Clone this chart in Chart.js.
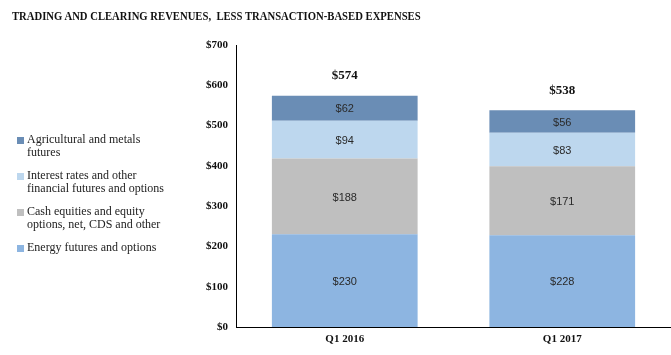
<!DOCTYPE html>
<html>
<head>
<meta charset="utf-8">
<script src="https://cdn.jsdelivr.net/npm/chart.js@4/dist/chart.umd.min.js"></script>
<style>
  html, body { margin: 0; padding: 0; background: #fff; }
  #wrap { position: relative; width: 671px; height: 355px; overflow: hidden; }
  #c { position: absolute; left: 0; top: 0; }
  #title { position: absolute; left: 12px; top: 9px; font: bold 12.5px "Liberation Serif", serif; color: #111; white-space: pre; transform: scaleX(0.853); transform-origin: 0 0; }
  #legend { position: absolute; left: 17px; top: 0; font: 12px "Liberation Serif", serif; color: #222; }
  .li { position: absolute; left: 0; width: 190px; line-height: 13px; }
  .sw { position: absolute; left: 0; top: 4px; width: 7px; height: 7px; }
  .tx { margin-left: 10px; }
</style>
</head>
<body>
<div id="wrap">
  <canvas id="c" width="671" height="355"></canvas>
  <div id="title"></div>
  <div id="legend"></div>
</div>
<script>
const titleText = "TRADING AND CLEARING REVENUES,  LESS TRANSACTION-BASED EXPENSES";
const categories = ["Q1 2016", "Q1 2017"];
const seriesNames = [
  "Energy futures and options",
  "Cash equities and equity options, net, CDS and other",
  "Interest rates and other financial futures and options",
  "Agricultural and metals futures"
];
const legendLines = [
  ["Energy futures and options"],
  ["Cash equities and equity", "options, net, CDS and other"],
  ["Interest rates and other", "financial futures and options"],
  ["Agricultural and metals", "futures"]
];
const energy = [230, 228];
const cashEquities = [188, 171];
const interestRates = [94, 83];
const agricultural = [62, 56];
const yTicks = [0, 100, 200, 300, 400, 500, 600, 700];
const colors = ["#8db5e1", "#bfbfbf", "#bdd7ee", "#6a8db5"];

document.getElementById('title').textContent = titleText;

// HTML legend (top item is last series)
const legendTops = [241, 205, 169, 133];
const legendEl = document.getElementById('legend');
seriesNames.forEach((n, i) => {
  const d = document.createElement('div');
  d.className = 'li';
  d.style.top = legendTops[i] + 'px';
  d.innerHTML = '<div class="sw" style="background:' + colors[i] + '"></div><div class="tx">' + legendLines[i].join('<br>') + '</div>';
  legendEl.appendChild(d);
});

const seriesData = [energy, cashEquities, interestRates, agricultural];

const labelPlugin = {
  id: 'segLabels',
  afterDatasetsDraw(chart) {
    const ctx = chart.ctx;
    ctx.save();
    ctx.textAlign = 'center';
    ctx.textBaseline = 'middle';
    ctx.fillStyle = '#2a2a2a';
    ctx.font = '11px "Liberation Sans", sans-serif';
    chart.data.datasets.forEach((ds, di) => {
      const meta = chart.getDatasetMeta(di);
      meta.data.forEach((bar, i) => {
        const yc = (bar.y + bar.base) / 2;
        ctx.fillText('$' + ds.data[i], bar.x, yc + 1);
      });
    });
    // totals
    ctx.font = 'bold 13px "Liberation Serif", serif';
    ctx.fillStyle = '#111';
    const last = chart.getDatasetMeta(chart.data.datasets.length - 1);
    categories.forEach((c, i) => {
      const total = seriesData.reduce((s, arr) => s + arr[i], 0);
      const bar = last.data[i];
      ctx.fillText('$' + total, bar.x, bar.y - 20);
    });
    ctx.restore();
  }
};

new Chart(document.getElementById('c'), {
  type: 'bar',
  data: {
    labels: categories,
    datasets: seriesNames.map((n, i) => ({
      label: n,
      data: seriesData[i],
      backgroundColor: colors[i],
      borderWidth: 0,
      categoryPercentage: 1,
      barPercentage: 0.67
    }))
  },
  options: {
    responsive: false,
    animation: false,
    events: [],
    layout: { padding: { left: 170, top: 45, right: 0, bottom: 0 } },
    plugins: { legend: { display: false }, tooltip: { enabled: false }, title: { display: false } },
    scales: {
      x: {
        stacked: true,
        grid: { display: false, drawTicks: false },
        border: { display: true, color: '#000', width: 1 },
        ticks: { padding: 6, color: '#111', font: { family: '"Liberation Serif", serif', size: 11, weight: 'bold' } },
        afterFit(s) { s.height = 28; }
      },
      y: {
        stacked: true,
        min: 0, max: 700,
        afterBuildTicks(s) { s.ticks = yTicks.map(v => ({ value: v })); },
        grid: { display: false, drawTicks: false },
        border: { display: true, color: '#000', width: 1 },
        ticks: {
          padding: 8, color: '#111',
          font: { family: '"Liberation Serif", serif', size: 11, weight: 'bold' },
          callback: v => '$' + v
        },
        afterFit(s) { s.width = 66; }
      }
    }
  },
  plugins: [labelPlugin]
});
</script>
</body>
</html>
